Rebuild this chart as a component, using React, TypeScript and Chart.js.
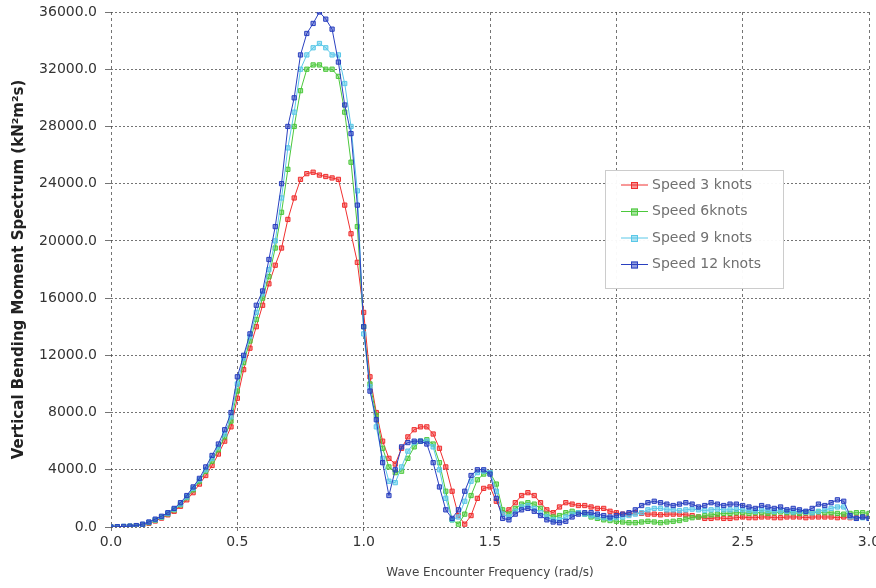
import React, { useEffect, useRef } from "react";
import { Chart, registerables } from "chart.js";

Chart.register(...registerables);

const FREQ = [
  0, 0.025, 0.05, 0.075, 0.1, 0.125, 0.15, 0.175, 0.2, 0.225, 0.25, 0.275, 0.3, 0.325, 0.35, 0.375, 0.4, 0.425, 0.45, 0.475,
  0.5, 0.525, 0.55, 0.575, 0.6, 0.625, 0.65, 0.675, 0.7, 0.725, 0.75, 0.775, 0.8, 0.825, 0.85, 0.875, 0.9, 0.925, 0.95, 0.975, 1.0,
  1.025, 1.05, 1.075, 1.1, 1.125, 1.15, 1.175, 1.2, 1.225, 1.25, 1.275, 1.3, 1.325, 1.35, 1.375, 1.4, 1.425, 1.45, 1.475, 1.5,
  1.525, 1.55, 1.575, 1.6, 1.625, 1.65, 1.675, 1.7, 1.725, 1.75, 1.775, 1.8, 1.825, 1.85, 1.875, 1.9, 1.925, 1.95, 1.975, 2.0,
  2.025, 2.05, 2.075, 2.1, 2.125, 2.15, 2.175, 2.2, 2.225, 2.25, 2.275, 2.3, 2.325, 2.35, 2.375, 2.4, 2.425, 2.45, 2.475, 2.5,
  2.525, 2.55, 2.575, 2.6, 2.625, 2.65, 2.675, 2.7, 2.725, 2.75, 2.775, 2.8, 2.825, 2.85, 2.875, 2.9, 2.925, 2.95, 2.975, 3.0,
];

const SPEED_3 = [
  0, 10, 20, 40, 70, 140, 260, 420, 620, 850, 1100, 1450, 1900, 2400, 3000, 3600, 4300, 5100, 6000, 7000,
  9000, 11000, 12500, 14000, 15500, 17000, 18300, 19500, 21500, 23000, 24300, 24700, 24800, 24600, 24500, 24400, 24300, 22500, 20500, 18500, 15000,
  10500, 8000, 6000, 4800, 4400, 5500, 6300, 6800, 7000, 7000, 6500, 5500, 4200, 2500, 800, 200, 800, 2000, 2700, 2800,
  1800, 1000, 1200, 1700, 2200, 2400, 2200, 1700, 1200, 1000, 1400, 1700, 1600, 1500, 1500, 1400, 1300, 1300, 1100, 1000,
  900, 900, 1000, 950, 900, 900, 850, 900, 900, 900, 850, 800, 700, 600, 600, 650, 600, 600, 650, 700,
  650, 650, 700, 700, 650, 650, 700, 700, 700, 650, 700, 700, 700, 700, 650, 700, 650, 650, 700, 700,
];

const SPEED_6 = [
  0, 15, 30, 50, 80, 160, 300, 480, 680, 920, 1200, 1550, 2050, 2600, 3200, 3900, 4600, 5400, 6300, 7400,
  9500, 11500, 13000, 14500, 16000, 17500, 19500, 22000, 25000, 28000, 30500, 32000, 32300, 32300, 32000, 32000, 31500, 29000, 25500, 21000, 14000,
  10000, 7800, 5500, 4200, 3800, 3900, 4800, 5600, 6000, 6100, 5800, 4500, 2500, 500, 200, 900, 2200, 3300, 3700, 3800,
  3000, 1200, 900, 1300, 1600, 1700, 1600, 1300, 900, 700, 800, 1000, 1100, 1000, 900, 700, 600, 500, 450, 400,
  350, 300, 300, 350, 400, 350, 300, 350, 400, 450, 550, 650, 700, 800, 850, 900, 950, 950, 1000, 1000,
  950, 1000, 1000, 950, 1000, 1050, 1000, 1000, 950, 1000, 1000, 1050, 1000, 1000, 950, 900, 950, 1000, 1000, 950,
];

const SPEED_9 = [
  0, 20, 40, 60, 90, 180, 320, 500, 700, 950, 1250, 1600, 2100, 2700, 3300, 4000, 4800, 5600, 6500, 7700,
  10000, 11800, 13300, 15000, 16300, 18000, 20000, 23000, 26500, 29000, 32000, 33000, 33500, 33800, 33500, 33000, 33000, 31000, 28000, 23500, 13500,
  9800, 7000, 4800, 3200, 3100, 4200, 5300, 5900, 6000, 6000, 5600, 4000, 2000, 500, 700, 1800, 3200, 3800, 3900, 3800,
  2500, 900, 700, 1100, 1400, 1500, 1300, 1000, 700, 500, 500, 700, 900, 1000, 900, 800, 700, 650, 600, 650,
  700, 800, 900, 1000, 1200, 1300, 1300, 1200, 1200, 1150, 1200, 1250, 1200, 1150, 1200, 1250, 1200, 1200, 1250, 1200,
  1150, 1100, 1200, 1150, 1100, 1150, 1100, 1050, 1100, 1050, 1000, 1100, 1200, 1300, 1400, 1400, 700, 600, 650, 600,
];

const SPEED_12 = [
  0, 20, 40, 60, 100, 200, 350, 550, 750, 1000, 1300, 1700, 2200, 2800, 3400, 4200, 5000, 5800, 6800, 8000,
  10500, 12000, 13500, 15500, 16500, 18700, 21000, 24000, 28000, 30000, 33000, 34500, 35200, 36000, 35500, 34800, 32500, 29500, 27500, 22500, 14000,
  9500, 7500, 4500, 2200, 4000, 5600, 5900, 6000, 6000, 5800, 4500, 2800, 1200, 600, 1200, 2500, 3600, 4000, 4000, 3700,
  2000, 600, 500, 900, 1200, 1300, 1100, 800, 500, 350, 300, 400, 700, 900, 1000, 1000, 900, 800, 700, 800,
  900, 1000, 1200, 1500, 1700, 1800, 1700, 1600, 1500, 1600, 1700, 1600, 1400, 1500, 1700, 1600, 1500, 1600, 1600, 1500,
  1400, 1300, 1500, 1400, 1300, 1400, 1200, 1300, 1200, 1100, 1300, 1600, 1500, 1700, 1900, 1800, 800, 600, 700, 600,
];

const SERIES_LABELS = ["Speed 3 knots", "Speed 6knots", "Speed 9 knots", "Speed 12 knots"];
const SERIES_VALUES = [SPEED_3, SPEED_6, SPEED_9, SPEED_12];
const SERIES_COLORS = ["#f03030", "#4cc83c", "#5ac8e8", "#2a40c0"];

const X_TITLE = "Wave Encounter Frequency (rad/s)";
const Y_TITLE = "Vertical Bending Moment Spectrum (kN²m²s)";

const FONT = '"DejaVu Sans", sans-serif';

const boxLegend = {
  id: "boxLegend",
  afterDraw(chart: any) {
    const { ctx, chartArea } = chart;
    const x0 = chartArea.left + 494;
    const y0 = chartArea.top + 158;
    const w = 178;
    const h = 118;
    ctx.save();
    ctx.fillStyle = "rgba(255,255,255,0.96)";
    ctx.fillRect(x0, y0, w, h);
    ctx.strokeStyle = "#cccccc";
    ctx.lineWidth = 1;
    ctx.strokeRect(x0 + 0.5, y0 + 0.5, w, h);
    chart.data.datasets.forEach((ds: any, i: number) => {
      const cy = y0 + 15 + i * 26.5;
      ctx.strokeStyle = ds.borderColor;
      ctx.lineWidth = 1;
      ctx.beginPath();
      ctx.moveTo(x0 + 16, cy);
      ctx.lineTo(x0 + 43, cy);
      ctx.stroke();
      ctx.fillStyle = ds.pointBackgroundColor;
      ctx.fillRect(x0 + 26, cy - 3, 7, 7);
      ctx.strokeRect(x0 + 26.5, cy - 2.5, 6, 6);
      ctx.fillStyle = "#707070";
      ctx.font = "14px " + FONT;
      ctx.textBaseline = "middle";
      ctx.textAlign = "left";
      ctx.fillText(ds.label, x0 + 47, cy);
    });
    ctx.restore();
  },
};

function hexA(hex: string, a: number) {
  const r = parseInt(hex.slice(1, 3), 16);
  const g = parseInt(hex.slice(3, 5), 16);
  const b = parseInt(hex.slice(5, 7), 16);
  return `rgba(${r},${g},${b},${a})`;
}

export default function App() {
  const ref = useRef<HTMLCanvasElement | null>(null);

  useEffect(() => {
    document.body.style.margin = "0";
    const canvas = ref.current;
    if (!canvas) return;
    const datasets = SERIES_LABELS.map((label, s) => ({
      label,
      data: FREQ.map((f, i) => ({ x: f, y: SERIES_VALUES[s][i] })),
      borderColor: SERIES_COLORS[s],
      backgroundColor: hexA(SERIES_COLORS[s], 0.5),
      pointBackgroundColor: hexA(SERIES_COLORS[s], 0.5),
      pointBorderColor: SERIES_COLORS[s],
      pointStyle: "rect",
      pointRadius: 3,
      pointBorderWidth: 1,
      borderWidth: 1,
      tension: 0,
      order: 3 - s,
    }));

    const gridColor = "rgba(70,70,70,0.75)";
    const chart = new Chart(canvas, {
      type: "line",
      data: { datasets },
      plugins: [boxLegend],
      options: {
        responsive: false,
        animation: false,
        layout: { padding: { left: 0, right: 7, top: 12, bottom: 0 } },
        plugins: {
          legend: { display: false },
          tooltip: { enabled: false },
        },
        scales: {
          x: {
            type: "linear",
            min: 0,
            max: 3,
            ticks: {
              stepSize: 0.5,
              color: "#333",
              padding: 3,
              font: { family: FONT, size: 14 },
              callback: (v: any) => Number(v).toFixed(1),
            },
            grid: { color: gridColor, tickLength: 4, lineWidth: 1 },
            border: { display: false, dash: [3, 3] },
            title: {
              display: true,
              text: X_TITLE,
              color: "#444",
              font: { family: FONT, size: 12 },
              padding: { top: 4, bottom: 8 },
            },
            afterFit: (s: any) => {
              s.height = 61;
              s.paddingLeft = 0;
              s.paddingRight = 0;
            },
          },
          y: {
            type: "linear",
            min: 0,
            max: 36000,
            ticks: {
              stepSize: 4000,
              color: "#333",
              padding: 8,
              font: { family: FONT, size: 14 },
              callback: (v: any) => Number(v).toFixed(1),
            },
            grid: { color: gridColor, tickLength: 6, lineWidth: 1 },
            border: { display: false, dash: [2, 2] },
            title: {
              display: true,
              text: Y_TITLE,
              color: "#222",
              font: { family: FONT, size: 15, weight: "bold" },
              padding: { top: 10, bottom: 10 },
            },
            afterFit: (s: any) => {
              s.width = 111;
              s.paddingTop = 0;
              s.paddingBottom = 0;
            },
          },
        },
      },
    } as any);
    return () => chart.destroy();
  }, []);

  return (
    <div style={{ width: 876, height: 588, background: "#fff" }}>
      <canvas ref={ref} width={876} height={588} style={{ display: "block" }} />
    </div>
  );
}
